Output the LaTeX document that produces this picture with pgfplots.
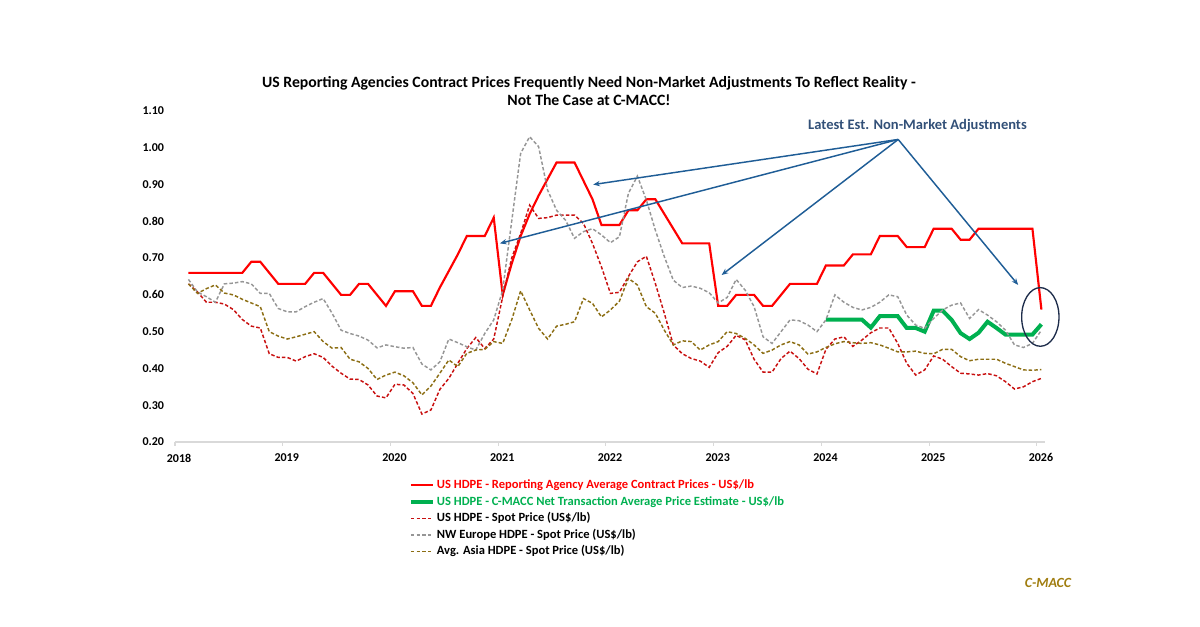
\documentclass[border=0pt]{standalone}
\usepackage{fontspec}
\setmainfont{Carlito}
\usepackage{pgfplots}
\pgfplotsset{compat=1.18}
\usetikzlibrary{arrows.meta}

\definecolor{Contract}{RGB}{255,0,0}
\definecolor{CMACC}{RGB}{0,176,80}
\definecolor{USspot}{RGB}{200,16,16}
\definecolor{EUspot}{RGB}{150,150,150}
\definecolor{ASspot}{RGB}{140,110,20}
\definecolor{Note}{RGB}{31,93,150}
\definecolor{NoteText}{RGB}{50,80,120}
\definecolor{Ring}{RGB}{30,45,75}
\definecolor{Mark}{RGB}{160,125,15}

\begin{document}
\begin{tikzpicture}[x=0.75pt,y=0.75pt]
\begin{axis}[
    scale only axis,
    width=652.5pt, height=248.25pt,
    xmin=-0.5, xmax=96.4,
    ymin=0.2, ymax=1.1,
    clip=false,
    axis x line*=bottom, axis y line*=left,
    x axis line style={draw=black!15, line width=1pt},
    y axis line style={draw=none},
    xtick={-0.5,11.5,23.5,35.5,47.5,59.5,71.5,83.5,95.5},
    xticklabels={2018,2019,2020,2021,2022,2023,2024,2025,2026},
    xtick style={draw=black!15, line width=0.8pt},
    tick align=outside, major tick length=3pt,
    ytick={0.2,0.3,0.4,0.5,0.6,0.7,0.8,0.9,1.0,1.1},
    ytick style={draw=none},
    yticklabel={\pgfmathprintnumber[fixed,fixed zerofill,precision=2,assume math mode=true]{\tick}},
    ticklabel style={font=\fontsize{9}{10}\selectfont\bfseries},
    yticklabel style={xshift=-1.7pt},
    xticklabel style={yshift=-2.3pt, xshift=3pt},
    legend style={
      at={(0.264,-0.097)}, anchor=north west,
      draw=none, fill=none,
      font=\fontsize{9.4}{10}\selectfont\bfseries,
      row sep=0pt,
      nodes={text height=7pt, text depth=2pt, inner ysep=1.7pt, inner xsep=1.5pt},
      cells={anchor=west},
    },
    legend image code/.code={\draw[#1] (0pt,0pt) -- (16.5pt,0pt);},
    spot/.style={line width=1.1pt, dash pattern=on 2.6pt off 1.6pt},
]
\coordinate (O) at (rel axis cs:0,0);

% Reporting agency contract price
\addplot[Contract, line width=1.6pt] coordinates {
(1,.66) (2,.66) (3,.66) (4,.66) (5,.66) (6,.66) (7,.66) (8,.69) (9,.69) (10,.66)
(11,.63) (12,.63) (13,.63) (14,.63) (15,.66) (16,.66) (17,.63) (18,.60) (19,.60) (20,.63)
(21,.63) (22,.60) (23,.57) (24,.61) (25,.61) (26,.61) (27,.57) (28,.57) (29,.62) (30,.665)
(31,.71) (32,.76) (33,.76) (34,.76) (35,.81) (36,.60) (37,.685) (38,.76) (39,.82) (40,.87)
(41,.915) (42,.96) (43,.96) (44,.96) (45,.91) (46,.86) (47,.79) (48,.79) (49,.79) (50,.83)
(51,.83) (52,.86) (53,.86) (54,.82) (55,.78) (56,.74) (57,.74) (58,.74) (59,.74) (60,.57)
(61,.57) (62,.60) (63,.60) (64,.60) (65,.57) (66,.57) (67,.60) (68,.63) (69,.63) (70,.63)
(71,.63) (72,.68) (73,.68) (74,.68) (75,.71) (76,.71) (77,.71) (78,.76) (79,.76) (80,.76)
(81,.73) (82,.73) (83,.73) (84,.78) (85,.78) (86,.78) (87,.75) (88,.75) (89,.78) (90,.78)
(91,.78) (92,.78) (93,.78) (94,.78) (95,.78) (96,.56)
};
\addlegendentry{\textcolor{Contract}{US HDPE - Reporting Agency Average Contract Prices - US\$/lb}}

% C-MACC net transaction estimate
\addplot[CMACC, line width=3pt] coordinates {
(72,.533) (73,.533) (74,.533) (75,.533) (76,.533) (77,.511) (78,.542) (79,.542) (80,.542) (81,.51)
(82,.51) (83,.50) (84,.557) (85,.557) (86,.532) (87,.496) (88,.48) (89,.497) (90,.527) (91,.51)
(92,.492) (93,.492) (94,.492) (95,.492) (96,.52)
};
\addlegendentry{\textcolor{CMACC}{US HDPE - C-MACC Net Transaction Average Price Estimate - US\$/lb}}

% US spot
\addplot[USspot, spot] coordinates {
(1,.63) (2,.608) (3,.58) (4,.58) (5,.575) (6,.56) (7,.533) (8,.515) (9,.51) (10,.44)
(11,.43) (12,.43) (13,.42) (14,.432) (15,.44) (16,.43) (17,.406) (18,.387) (19,.371) (20,.37)
(21,.355) (22,.325) (23,.32) (24,.357) (25,.355) (26,.332) (27,.276) (28,.287) (29,.343) (30,.373)
(31,.414) (32,.454) (33,.484) (34,.454) (35,.48) (36,.595) (37,.70) (38,.767) (39,.844) (40,.808)
(41,.81) (42,.817) (43,.817) (44,.817) (45,.794) (46,.74) (47,.676) (48,.604) (49,.607) (50,.65)
(51,.69) (52,.705) (53,.631) (54,.55) (55,.464) (56,.44) (57,.427) (58,.42) (59,.403) (60,.443)
(61,.46) (62,.49) (63,.478) (64,.425) (65,.39) (66,.39) (67,.427) (68,.447) (69,.427) (70,.398)
(71,.385) (72,.452) (73,.48) (74,.486) (75,.46) (76,.477) (77,.497) (78,.51) (79,.51) (80,.468)
(81,.414) (82,.382) (83,.396) (84,.434) (85,.425) (86,.405) (87,.387) (88,.385) (89,.382) (90,.386)
(91,.38) (92,.364) (93,.344) (94,.35) (95,.364) (96,.373)
};
\addlegendentry{US HDPE - Spot Price (US\$/lb)}

% NW Europe spot
\addplot[EUspot, spot] coordinates {
(1,.642) (2,.608) (3,.595) (4,.58) (5,.63) (6,.632) (7,.636) (8,.63) (9,.604) (10,.604)
(11,.563) (12,.554) (13,.554) (14,.568) (15,.58) (16,.59) (17,.55) (18,.504) (19,.495) (20,.488)
(21,.477) (22,.456) (23,.464) (24,.459) (25,.455) (26,.457) (27,.412) (28,.396) (29,.418) (30,.48)
(31,.47) (32,.459) (33,.45) (34,.495) (35,.532) (36,.613) (37,.80) (38,.985) (39,1.03) (40,1.003)
(41,.885) (42,.83) (43,.803) (44,.754) (45,.772) (46,.78) (47,.763) (48,.742) (49,.758) (50,.876)
(51,.923) (52,.858) (53,.776) (54,.704) (55,.64) (56,.62) (57,.624) (58,.618) (59,.606) (60,.578)
(61,.593) (62,.642) (63,.613) (64,.568) (65,.486) (66,.468) (67,.50) (68,.532) (69,.53) (70,.518)
(71,.50) (72,.532) (73,.60) (74,.58) (75,.566) (76,.559) (77,.566) (78,.58) (79,.60) (80,.595)
(81,.545) (82,.518) (83,.509) (84,.536) (85,.559) (86,.572) (87,.578) (88,.536) (89,.56) (90,.545)
(91,.527) (92,.504) (93,.464) (94,.457) (95,.468) (96,.504)
};
\addlegendentry{NW Europe HDPE - Spot Price (US\$/lb)}

% Avg. Asia spot
\addplot[ASspot, spot] coordinates {
(1,.63) (2,.604) (3,.617) (4,.627) (5,.605) (6,.60) (7,.588) (8,.578) (9,.568) (10,.50)
(11,.488) (12,.48) (13,.486) (14,.493) (15,.50) (16,.473) (17,.455) (18,.457) (19,.425) (20,.418)
(21,.40) (22,.37) (23,.382) (24,.39) (25,.38) (26,.361) (27,.328) (28,.352) (29,.387) (30,.423)
(31,.405) (32,.441) (33,.45) (34,.452) (35,.473) (36,.468) (37,.532) (38,.611) (39,.559) (40,.509)
(41,.48) (42,.515) (43,.52) (44,.527) (45,.59) (46,.577) (47,.54) (48,.559) (49,.583) (50,.645)
(51,.627) (52,.568) (53,.55) (54,.504) (55,.464) (56,.475) (57,.473) (58,.45) (59,.464) (60,.473)
(61,.50) (62,.495) (63,.482) (64,.464) (65,.441) (66,.45) (67,.464) (68,.473) (69,.464) (70,.439)
(71,.445) (72,.457) (73,.467) (74,.473) (75,.47) (76,.468) (77,.47) (78,.464) (79,.455) (80,.445)
(81,.445) (82,.447) (83,.441) (84,.44) (85,.452) (86,.452) (87,.432) (88,.421) (89,.425) (90,.425)
(91,.425) (92,.414) (93,.405) (94,.396) (95,.395) (96,.397)
};
\addlegendentry{Avg. Asia HDPE - Spot Price (US\$/lb)}

% annotation
\node[font=\fontsize{10.9}{12}\selectfont\bfseries, text=NoteText] at (axis cs:82.2,1.059) {Latest Est. Non-Market Adjustments};
\begin{scope}[Note, line width=1.1pt, -{Stealth[length=5pt,width=4pt]}]
\draw (axis cs:80.05,1.0226) -- (axis cs:46.08,0.90);
\draw (axis cs:80.05,1.0226) -- (axis cs:35.69,0.74);
\draw (axis cs:80.05,1.0226) -- (axis cs:60.38,0.654);
\draw (axis cs:80.05,1.0226) -- (axis cs:93.41,0.627);
\end{scope}
\draw[Ring, line width=1pt] (axis cs:95.88,0.54) ellipse [x radius=14pt, y radius=22pt];
\end{axis}

\node[font=\fontsize{11.8}{13.5}\selectfont\bfseries, align=center] at ([shift={(414,351)}]O)
  {US Reporting Agencies Contract Prices Frequently Need Non-Market Adjustments To Reflect Reality -\\
   Not The Case at C-MACC!};
\node[font=\fontsize{10.5}{12}\selectfont\bfseries\itshape, text=Mark] at ([shift={(873,-141)}]O) {C-MACC};

\pgfresetboundingbox
\path[use as bounding box] ([shift={(-175,-185)}]O) rectangle ([shift={(1025,442)}]O);
\end{tikzpicture}
\end{document}
